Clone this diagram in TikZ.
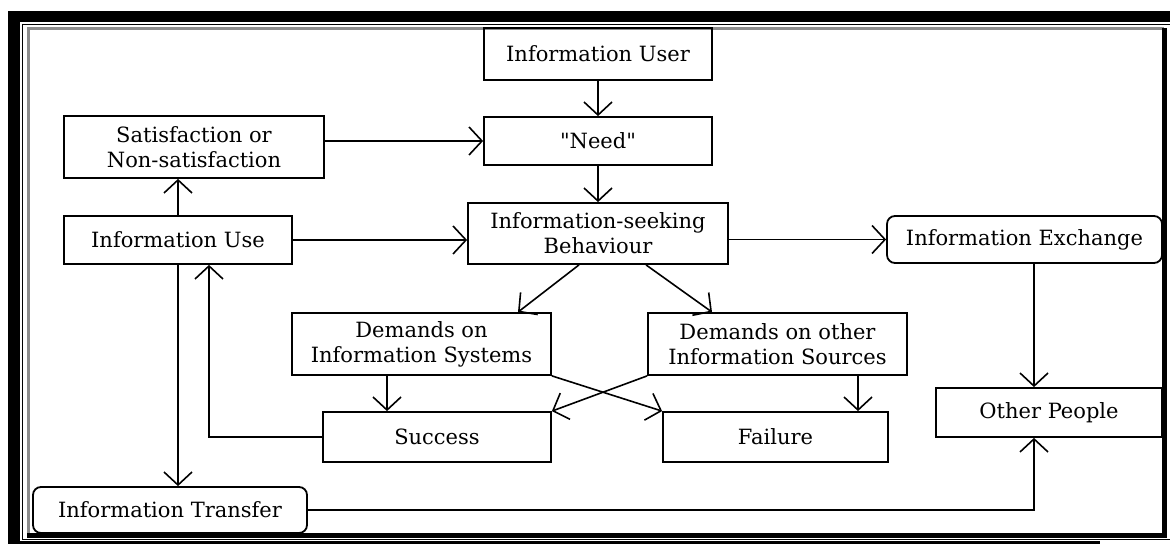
\documentclass[tikz,border=0pt]{standalone}
\usepackage{fontspec}
\setmainfont{DejaVu Serif}
\newfontfamily\plainserif{DejaVu Serif}
\usetikzlibrary{arrows.meta,calc}

\begin{document}
\begin{tikzpicture}[x=0.5pt, y=-0.5pt,
  every node/.style={font=\fontsize{10.5}{12.5}\selectfont},
  box/.style={draw, line width=0.9pt, align=center, inner sep=2pt},
  rbox/.style={box, rounded corners=4pt},
  arr/.style={line width=0.8pt, -{Straight Barb[length=6.5pt, width=14pt, line width=0.8pt]}}]
  \useasboundingbox (0,0) rectangle (1170,544);
  % frame
  \fill (8,11) rectangle (1170,22);
  \fill (8,11) rectangle (20,544);
  \fill (8,541) rectangle (1100,544);
  \draw[line width=0.7pt] (1170,24.5) -- (22.5,24.5) -- (22.5,539.5) -- (1170,539.5);
  \draw[black!45, line width=1.5pt] (28,535) -- (28,29) -- (1164,29);
  \draw[line width=2.5pt] (1164.5,28) -- (1164.5,535) -- (27,535);

  % boxes
  \node[box, minimum width=114pt, minimum height=26pt] (user) at (598,54) {Information User};
  \node[box, minimum width=114pt, minimum height=24pt] (need) at (598,141) {\plainserif "Need"};
  \node[box, minimum width=130pt, minimum height=31pt] (satis) at (194,147) {Satisfaction or\\Non-satisfaction};
  \node[box, minimum width=114pt, minimum height=24pt] (use) at (178,240) {Information Use};
  \node[box, minimum width=130pt, minimum height=30.5pt] (isb) at (598,233.5) {Information-seeking\\Behaviour};
  \node[rbox, minimum width=137.5pt, minimum height=23.5pt] (exch) at (1024.5,239.5) {Information Exchange};
  \node[box, minimum width=129.5pt, minimum height=31pt] (dis) at (421.5,344) {Demands on\\Information Systems};
  \node[box, minimum width=129.5pt, minimum height=31pt] (dos) at (777.5,344) {Demands on other\\Information Sources};
  \node[box, minimum width=114pt, minimum height=25pt] (succ) at (437,437) {Success};
  \node[box, minimum width=112.5pt, minimum height=25pt] (fail) at (775.5,437) {Failure};
  \node[box, minimum width=113pt, minimum height=24.5pt] (other) at (1049,412.5) {Other People};
  \node[rbox, minimum width=137pt, minimum height=23pt] (transfer) at (170,510) {Information Transfer};

  % connectors
  \draw[arr] (user) -- (need);
  \draw[arr] (need) -- (isb);
  \draw[arr] (satis.east |- need) -- (need.west);
  \draw[arr] (use.north) -- (use.north |- satis.south);
  \draw[arr] (use.east) -- (use.east -| isb.west);
  \draw[arr] (exch.west -| isb.east) -- (exch.west);
  \coordinate (exdown) at ($(exch.south)+(9.5,0)$);
  \draw[arr] (exdown) -- (exdown |- other.north);
  \draw[arr] ($(isb.south)+(-19,0)$) -- ($(dis.north)+(96.5,0)$);
  \draw[arr] ($(isb.south)+(48,0)$) -- ($(dos.north)+(-65.5,0)$);
  \coordinate (disdown) at ($(dis.south)+(-34.5,0)$);
  \draw[arr] (disdown) -- (disdown |- succ.north);
  \coordinate (dosdown) at ($(dos.south)+(80.5,0)$);
  \draw[arr] (dosdown) -- (dosdown |- fail.north);
  \draw[arr] (dis.south east) -- (fail.north west);
  \draw[arr] (dos.south west) -- (succ.north east);
  \coordinate (usein) at ($(use.south)+(31,0)$);
  \draw[arr] (succ.west) -| (usein);
  \draw[arr] (use.south) -- (use.south |- transfer.north);
  \coordinate (othin) at ($(other.south)+(-15,0)$);
  \draw[arr] (transfer.east) -| (othin);
\end{tikzpicture}
\end{document}
